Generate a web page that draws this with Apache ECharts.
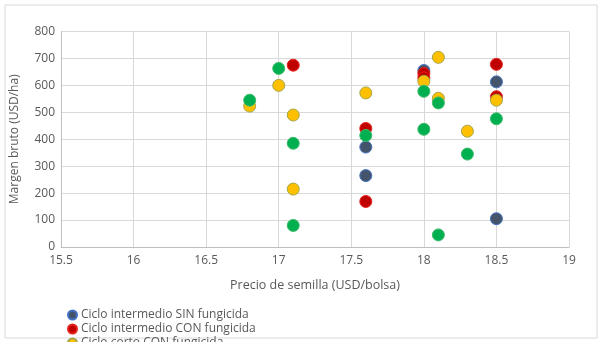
<!DOCTYPE html>
<html><head><meta charset="utf-8">
<script src="https://cdn.jsdelivr.net/npm/echarts@6/dist/echarts.min.js"></script>
<style>html,body{margin:0;padding:0;background:#fff}#c{width:600px;height:342px}</style>
</head><body><div id="c"></div>
<script>
var seriesNames = ["Ciclo intermedio SIN fungicida","Ciclo intermedio CON fungicida","Ciclo corto CON fungicida","Ciclo corto SIN fungicida"];
var azulX = [17.6, 17.6, 18.0, 18.5, 18.5];
var azulY = [371, 265, 655, 613, 105];
var rojoX = [17.1, 17.6, 17.6, 18.0, 18.0, 18.5, 18.5];
var rojoY = [675, 440, 169, 644, 628, 678, 558];
var amarilloX = [16.8, 17.0, 17.1, 17.1, 17.6, 18.0, 18.1, 18.1, 18.3, 18.5];
var amarilloY = [523, 600, 490, 215, 572, 615, 704, 552, 430, 545];
var verdeX = [16.8, 17.0, 17.1, 17.1, 17.6, 18.0, 18.0, 18.1, 18.1, 18.3, 18.5];
var verdeY = [545, 663, 385, 80, 414, 578, 437, 535, 45, 345, 476];
var xTicks = {min: 15.5, max: 19, interval: 0.5};
var yTicks = {min: 0, max: 800, interval: 100};

function pairs(xs, ys){ return xs.map(function(x,i){ return [x, ys[i]]; }); }
var fills = ["#44546A","#C00000","#FFC000","#00B050"];
var borders = ["#4472C4","#E8231B","#A5A54A","#3DBB6A"];
var datasets = [pairs(azulX,azulY), pairs(rojoX,rojoY), pairs(amarilloX,amarilloY), pairs(verdeX,verdeY)];
var txt = "#595959";
var ff = "'Open Sans', Lato, sans-serif";

var chart = echarts.init(document.getElementById('c'), null, {renderer:'canvas'});
chart.setOption({
  animation: false,
  backgroundColor: '#fff',
  textStyle: {fontFamily: ff},
  graphic: [{type:'rect', shape:{x:5,y:5,width:592,height:333}, style:{fill:'none', stroke:'#D9D9D9', lineWidth:1}, z:-1}],
  grid: {left: 61, right: 31, top: 31.5, bottom: 95, containLabel: false},
  xAxis: {
    type: 'value', min: xTicks.min, max: xTicks.max, interval: xTicks.interval,
    name: 'Precio de semilla (USD/bolsa)', nameLocation: 'middle', nameGap: 32,
    nameTextStyle: {color: txt, fontSize: 12.5, fontFamily: ff},
    axisLine: {show: true, lineStyle: {color: '#BFBFBF'}},
    axisTick: {show: false},
    axisLabel: {color: txt, fontSize: 12, margin: 8, fontFamily: ff},
    splitLine: {show: true, lineStyle: {color: '#D9D9D9'}}
  },
  yAxis: {
    type: 'value', min: yTicks.min, max: yTicks.max, interval: yTicks.interval,
    name: 'Margen bruto (USD/ha)', nameLocation: 'middle', nameGap: 40,
    nameTextStyle: {color: txt, fontSize: 12, fontFamily: ff},
    axisLine: {show: true, lineStyle: {color: '#BFBFBF'}},
    axisTick: {show: false},
    axisLabel: {color: txt, fontSize: 12, margin: 6, fontFamily: ff},
    splitLine: {show: true, lineStyle: {color: '#D9D9D9'}}
  },
  legend: {
    orient: 'vertical', left: 62, top: 304, height: 80, itemWidth: 9, itemHeight: 9, itemGap: 2,
    icon: 'circle',
    textStyle: {color: txt, fontSize: 12, fontFamily: ff, padding: [0,0,0,-1]},
    data: seriesNames
  },
  series: seriesNames.map(function(n, i){
    return {
      name: n, type: 'scatter', data: datasets[i], symbolSize: 12,
      itemStyle: {color: fills[i], borderColor: borders[i], borderWidth: 1, opacity: 1}
    };
  })
});
</script></body></html>
